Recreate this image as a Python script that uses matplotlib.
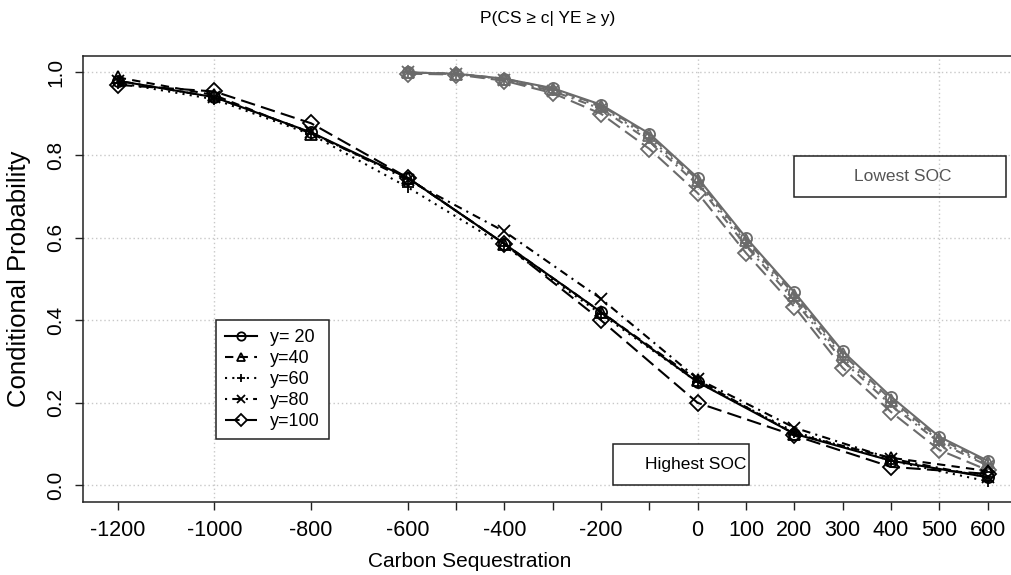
"""Conditional probability curves P(CS >= c | YE >= y) for highest / lowest SOC."""

import matplotlib

matplotlib.use("Agg")
import matplotlib.pyplot as plt
from matplotlib.patches import Rectangle

# ---- data ----
x_hi = [-1200, -1000, -800, -600, -400, -200, 0, 200, 400, 600]
hi_y20 = [0.980, 0.940, 0.855, 0.745, 0.585, 0.420, 0.250, 0.125, 0.060, 0.020]
hi_y40 = [0.988, 0.945, 0.852, 0.745, 0.585, 0.420, 0.255, 0.125, 0.067, 0.035]
hi_y60 = [0.975, 0.935, 0.850, 0.722, 0.580, 0.415, 0.250, 0.130, 0.060, 0.010]
hi_y80 = [0.980, 0.940, 0.855, 0.740, 0.615, 0.452, 0.258, 0.140, 0.065, 0.020]
hi_y100 = [0.970, 0.954, 0.877, 0.745, 0.585, 0.400, 0.200, 0.121, 0.045, 0.028]

x_lo = [-600, -500, -400, -300, -200, -100, 0, 100, 200, 300, 400, 500, 600]
lo_y20 = [1.000, 0.997, 0.985, 0.962, 0.922, 0.852, 0.745, 0.600, 0.468, 0.325, 0.215, 0.118, 0.060]
lo_y40 = [1.000, 0.997, 0.985, 0.960, 0.920, 0.848, 0.740, 0.595, 0.462, 0.318, 0.208, 0.113, 0.056]
lo_y60 = [1.000, 0.996, 0.984, 0.958, 0.917, 0.842, 0.735, 0.588, 0.455, 0.310, 0.202, 0.108, 0.052]
lo_y80 = [1.000, 0.996, 0.982, 0.955, 0.912, 0.835, 0.728, 0.580, 0.448, 0.302, 0.195, 0.104, 0.048]
lo_y100 = [0.997, 0.995, 0.980, 0.950, 0.900, 0.815, 0.708, 0.563, 0.433, 0.285, 0.178, 0.086, 0.037]

labels = ["y= 20", "y=40", "y=60", "y=80", "y=100"]
xtick_vals = [-1200, -1000, -800, -600, -500, -400, -300, -200, -100,
              0, 100, 200, 300, 400, 500, 600]
xtick_text = ["-1200", "-1000", "-800", "-600", "", "-400", "", "-200", "",
              "0", "100", "200", "300", "400", "500", "600"]
ytick_vals = [0.0, 0.2, 0.4, 0.6, 0.8, 1.0]

# R-like styles: lty 1..5, pch 1..5
styles = [
    ("-", "o"),
    ((0, (4, 3)), "^"),
    ((0, (1, 2.5)), "+"),
    ((0, (1, 2.5, 4, 2.5)), "x"),
    ((0, (7, 3)), "D"),
]

plt.rcParams["font.family"] = ["Liberation Sans", "DejaVu Sans"]

fig = plt.figure(figsize=(10.11, 5.75), dpi=100)
ax = fig.add_axes([0.0821, 0.127, 0.9330, 0.7757])

GRAY = "#6b6b6b"

for ys, (ls, mk) in zip([lo_y20, lo_y40, lo_y60, lo_y80, lo_y100], styles):
    ax.plot(x_lo, ys, color=GRAY, ls=ls, lw=1.5, marker=mk, ms=8,
            mfc="none", mec=GRAY, mew=1.3, zorder=3)

handles = []
for ys, (ls, mk), lab in zip([hi_y20, hi_y40, hi_y60, hi_y80, hi_y100], styles, labels):
    h, = ax.plot(x_hi, ys, color="black", ls=ls, lw=1.5, marker=mk, ms=8,
                 mfc="none", mec="black", mew=1.3, label=lab, zorder=4)
    handles.append(h)

ax.set_xlim(-1272, 680)
ax.set_ylim(-0.04, 1.04)

# grid like R's grid(): dotted light grey
for gx in [-1000, -500, 0, 500]:
    ax.axvline(gx, color="#c8c8c8", ls=(0, (1, 2)), lw=1.0, zorder=1)
for gy in ytick_vals:
    ax.axhline(gy, color="#c8c8c8", ls=(0, (1, 2)), lw=1.0, zorder=1)

ax.set_xticks(xtick_vals)
ax.set_xticklabels(xtick_text, fontsize=15.5)
ax.set_yticks(ytick_vals)
ax.set_yticklabels([f"{v:.1f}" for v in ytick_vals], fontsize=15, rotation=90,
                   va="center")
ax.tick_params(axis="both", direction="out", length=6, width=1.0, pad=7,
               color="#222")
for sp in ax.spines.values():
    sp.set_linewidth(1.1)
    sp.set_color("#222")

ax.set_xlabel("Carbon Sequestration", fontsize=15)
ax.xaxis.set_label_coords(0.41, -0.112)
ax.set_ylabel("Conditional Probability", fontsize=18.5)
ax.yaxis.set_label_coords(-0.055, 0.5)

fig.text(0.542, 0.968, "P(CS \u2265 c| YE \u2265 y)", ha="center", va="center",
         fontsize=12.5)

# annotation boxes
ax.add_patch(Rectangle((0.7535, 0.6839), 0.2247, 0.0919, transform=ax.transAxes,
                       fill=False, ec="#222", lw=1.1, zorder=5))
ax.text(0.8690, 0.7287, "Lowest SOC", transform=ax.transAxes, ha="center",
        va="center", fontsize=12.5, color="#555555", zorder=6)
ax.add_patch(Rectangle((0.5616, 0.0381), 0.1442, 0.0919, transform=ax.transAxes,
                       fill=True, fc="white", ec="#222", lw=1.1, zorder=5))
ax.text(0.7036, 0.083, "Highest SOC", transform=ax.transAxes, ha="right",
        va="center", fontsize=12.5, color="black", zorder=6)

leg = ax.legend(handles=handles, loc="upper left", bbox_to_anchor=(0.1409, 0.408),
                bbox_transform=ax.transAxes, borderaxespad=0, fontsize=13,
                frameon=True, fancybox=False, edgecolor="#222", framealpha=1,
                labelspacing=0.22, handlelength=1.8, handletextpad=0.7,
                borderpad=0.5, markerscale=0.75)
leg.get_frame().set_linewidth(1.1)
leg.set_zorder(7)

fig.savefig("out.png", dpi=100)
